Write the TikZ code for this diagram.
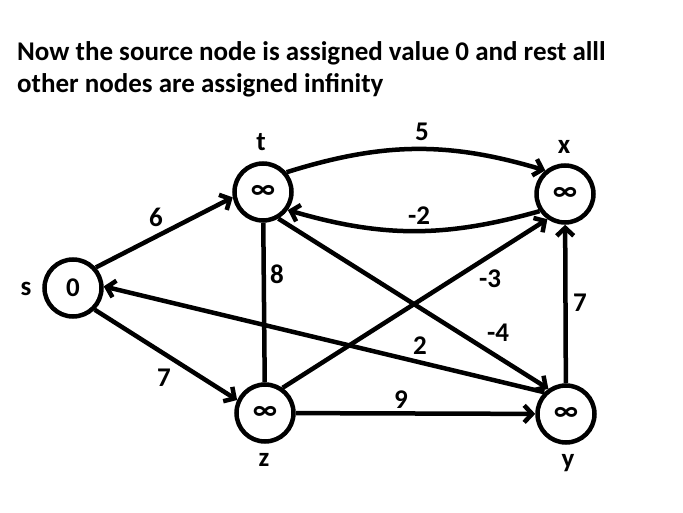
\documentclass[tikz,border=0pt]{standalone}
\usepackage{fontspec}
\setmainfont{Carlito}
\usetikzlibrary{arrows.meta}

\begin{document}
\begin{tikzpicture}[x=1pt,y=1pt,
    vertex/.style={circle, draw, line width=4.5pt, minimum size=57pt, inner sep=0pt,
      font=\fontsize{27}{27}\selectfont\bfseries},
    inf/.style={font=\fontsize{29}{29}\selectfont\bfseries},
    vname/.style={anchor=base, inner sep=0pt, font=\fontsize{27}{27}\selectfont\bfseries},
    weight/.style={inner sep=0pt, font=\fontsize{27}{27}\selectfont\bfseries},
    edge/.style={line width=4.5pt, -{Straight Barb[length=8pt,width=17pt]}},
    plain/.style={line width=4.5pt}]
  \useasboundingbox (0,0) rectangle (683,512);

  \node[anchor=north west, align=left, inner sep=0pt,
    font=\fontsize{27}{32}\selectfont\bfseries] (title) at (17,471)
    {Now the source node is assigned value 0 and rest alll\\
     other nodes are assigned infinity};

  % vertices
  \node[vertex] (s) at (73,224) {0};
  \node[vertex, inf] (t) at (263,320) {∞};
  \node[vertex, inf] (x) at (565,318) {∞};
  \node[vertex, inf] (z) at (265,99) {∞};
  \node[vertex, inf] (y) at (566,98) {∞};

  \node[vname] (sname) at (26,216) {s};
  \node[vname] (tname) at (261,361) {t};
  \node[vname] (xname) at (564,358) {x};
  \node[vname] (zname) at (264,46) {z};
  \node[vname] (yname) at (568,45) {y};

  % edges
  \draw[edge] (s.42) -- (t.190);
  \draw[edge] (s.-45) -- (z.155);
  \draw[edge] (t.40) to[bend left=17] (x.130);
  \draw[edge] (x.214) to[bend left=16] (t.-36);
  \draw[plain] (t) -- (z);
  \draw[edge] (t.-60) -- (y.125);
  \draw[edge] (z.55) -- (x.235);
  \draw[edge] (y.135) -- (s.3);
  \draw[edge] (z) -- (y);
  \draw[edge] (y) -- (x);

  % weights
  \node[weight] (w5) at (422,380) {5};
  \node[weight] (wm2) at (419,296) {-2};
  \node[weight] (w6) at (156,295) {6};
  \node[weight] (w8) at (277,238) {8};
  \node[weight] (wm3) at (490,233) {-3};
  \node[weight] (w7a) at (580,209) {7};
  \node[weight] (wm4) at (498,179) {-4};
  \node[weight] (w2) at (420,166) {2};
  \node[weight] (w7b) at (164,134) {7};
  \node[weight] (w9) at (401,112) {9};
\end{tikzpicture}
\end{document}
